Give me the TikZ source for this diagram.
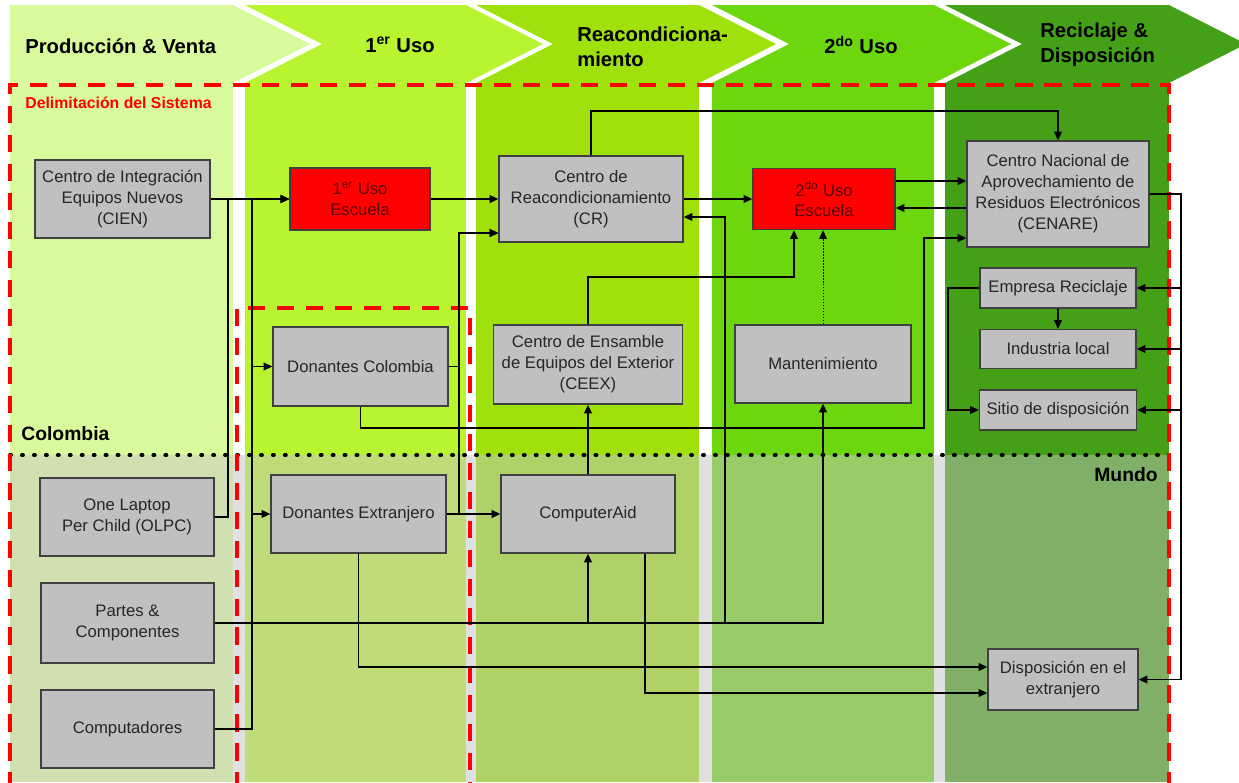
\documentclass[tikz,border=0pt]{standalone}
\usepackage{fontspec}
\setmainfont{Liberation Sans}
\usetikzlibrary{arrows.meta}
\definecolor{boxgray}{RGB}{192,192,192}
\definecolor{boxline}{RGB}{64,64,64}
\definecolor{escred}{RGB}{255,0,0}
\definecolor{escink}{RGB}{90,0,0}
\definecolor{gapgray}{RGB}{224,224,224}
\definecolor{hueA}{RGB}{217,249,157}
\definecolor{hueB}{RGB}{184,244,48}
\definecolor{hueC}{RGB}{160,224,12}
\definecolor{hueD}{RGB}{108,214,14}
\definecolor{hueE}{RGB}{68,160,22}
\definecolor{lowA}{RGB}{208,224,176}
\definecolor{lowB}{RGB}{190,220,122}
\definecolor{lowC}{RGB}{176,208,104}
\definecolor{lowD}{RGB}{152,204,104}
\definecolor{lowE}{RGB}{128,176,104}
\newcommand{\boxfont}{\fontsize{9.5}{11.9}\selectfont}
\newcommand{\headfont}{\fontsize{11.5}{14}\selectfont\bfseries}

\begin{document}
\begin{tikzpicture}[x=0.02cm,y=-0.02cm,
  box/.style 2 args={draw=boxline, fill=boxgray, line width=0.8pt, text=black!85,
    minimum width=#1, minimum height=#2, inner sep=1pt, align=center, font=\boxfont},
  school/.style 2 args={box={#1}{#2}, fill=escred, text=escink},
  flow/.style={-{Triangle[length=5pt,width=4.5pt]}, line width=0.7pt},
  limit/.style={red, line width=2.2pt, dash pattern=on 10pt off 6.5pt},
  zoneline/.style={line width=2.2pt, line cap=round, dash pattern=on 0.6pt off 6.2pt},
  headtext/.style={inner sep=0pt, font=\headfont, align=left},
  zonetext/.style={inner sep=0pt, font=\fontsize{11}{13}\selectfont\bfseries}]

  \useasboundingbox (0,0) rectangle (1239,782);
  \clip (0,0) rectangle (1239,782);

  %lanes
  \fill[gapgray] (10,455) rectangle (1169,782);
  \foreach \xa/\xb/\hue/\lowhue in {10/233/hueA/lowA, 245/466/hueB/lowB, 476/699/hueC/lowC, 712/934/hueD/lowD, 945/1169/hueE/lowE} {
    \fill[\hue] (\xa,83) rectangle (\xb,455);
    \fill[\lowhue] (\xa,455) rectangle (\xb,782);
  }

  %header arrows
  \fill[hueA] (10,5) -- (233,5) -- (310,44) -- (233,83) -- (10,83) -- cycle;
  \foreach \xa/\xb/\hue in {245/466/hueB, 476/699/hueC, 712/934/hueD, 945/1169/hueE}
    \fill[\hue] (\xa,5) -- (\xb,5) -- (\xb+77,44) -- (\xb,83) -- (\xa,83) -- (\xa+77,44) -- cycle;

  \node[headtext, anchor=west] (hprod) at (25,46) {Producción \& Venta};
  \node[headtext] (huno) at (400,45) {1\textsuperscript{er} Uso};
  \node[headtext, anchor=west] (hreac) at (577,47) {Reacondiciona-\\miento};
  \node[headtext] (hdos) at (861,45) {2\textsuperscript{do} Uso};
  \node[headtext, anchor=west] (hrec) at (1040,45) {Reciclaje \&\\Disposición};

  %colombia / mundo
  \draw[zoneline] (10,455) -- (1169,455);
  \node[zonetext, anchor=west] (colombia) at (21,434) {Colombia};
  \node[zonetext, anchor=east] (mundo) at (1158,475) {Mundo};

  %system limits
  \draw[limit] (10,790) -- (10,85) -- (1169,85) -- (1169,790);
  \draw[limit] (237,790) -- (237,308) -- (470,308) -- (470,790);
  \node[anchor=west, inner sep=0pt, text=red, font=\fontsize{9}{11}\selectfont\bfseries] (delim) at (25,103) {Delimitación del Sistema};

  %boxes
  \node[box={3.5cm}{1.56cm}] (cien) at (122.5,199) {Centro de Integración\\Equipos Nuevos\\(CIEN)};
  \node[school={2.8cm}{1.24cm}] (uno) at (360,199) {1\textsuperscript{er} Uso\\Escuela};
  \node[box={3.68cm}{1.72cm}] (cr) at (591,199) {Centro de\\Reacondicionamiento\\(CR)};
  \node[school={2.84cm}{1.22cm}] (dos) at (824,199) {2\textsuperscript{do} Uso\\Escuela};
  \node[box={3.64cm}{2.12cm}] (cenare) at (1058,194) {Centro Nacional de\\Aprovechamiento de\\Residuos Electrónicos\\(CENARE)};
  \node[box={3.12cm}{0.8cm}] (emprec) at (1058,288) {Empresa Reciclaje};
  \node[box={3.12cm}{0.78cm}] (indloc) at (1058,349) {Industria local};
  \node[box={3.14cm}{0.8cm}] (sitio) at (1058,410) {Sitio de disposición};
  \node[box={3.52cm}{1.56cm}] (mant) at (823,364) {Mantenimiento};
  \node[box={3.78cm}{1.58cm}] (ceex) at (588,364.5) {Centro de Ensamble\\de Equipos del Exterior\\(CEEX)};
  \node[box={3.5cm}{1.58cm}] (doncol) at (360.5,366.5) {Donantes Colombia};
  \node[box={3.5cm}{1.56cm}] (donext) at (358.5,514) {Donantes Extranjero};
  \node[box={3.48cm}{1.56cm}] (compaid) at (588,514) {ComputerAid};
  \node[box={3.48cm}{1.56cm}] (olpc) at (127,517) {One Laptop\\Per Child (OLPC)};
  \node[box={3.46cm}{1.6cm}] (partes) at (127.5,623) {Partes \&\\Componentes};
  \node[box={3.46cm}{1.56cm}] (computadores) at (127.5,729) {Computadores};
  \node[box={3.0cm}{1.22cm}] (dispext) at (1063,679.5) {Disposición en el\\extranjero};

  %into 1er uso
  \draw[flow] (cien.east) -- (uno.west);
  \draw[flow] (olpc.east) -| (228,199) -- (uno.west);
  \draw[flow] (computadores.east) -| (252,199) -- (uno.west);
  \draw[flow] (computadores.east) -| (252,366.5) -- (doncol.west);
  \draw[flow] (computadores.east) -| (252,514) -- (donext.west);

  %donors and reconditioning
  \draw[flow] (uno.east) -- (cr.west);
  \draw[flow] (doncol.east) -| (459,233) -- (cr.west |- 0,233);
  \draw[flow] (donext.east) -| (459,233) -- (cr.west |- 0,233);
  \draw[flow] (donext.east) -- (compaid.west);
  \draw[flow] (cr.east) -- (dos.west);
  \draw[flow] (cr.north) |- (1058,111) -- (cenare.north);

  %parts
  \draw[flow] (partes.east) -| (compaid.south);
  \draw[flow] (partes.east) -| (725,217) -- (cr.east |- 0,217);
  \draw[flow] (partes.east) -| (mant.south);

  %assembly and 2do uso
  \draw[flow] (compaid.north) -- (ceex.south);
  \draw[flow] (ceex.north) |- (794,277) -- (dos.south -| 794,0);
  \draw[flow, densely dotted, line width=0.5pt] (mant.north) -- (mant.north |- dos.south);
  \draw[flow] (dos.east |- 0,181) -- (cenare.west |- 0,181);
  \draw[flow] (cenare.west |- 0,208) -- (dos.east |- 0,208);
  \draw[flow] (doncol.south) |- (924,428) |- (cenare.west |- 0,238);

  %recycling
  \draw[flow] (cenare.east) -| (1181,288) -- (emprec.east);
  \draw[flow] (cenare.east) -| (1181,349) -- (indloc.east);
  \draw[flow] (cenare.east) -| (1181,410) -- (sitio.east);
  \draw[flow] (cenare.east) -| (1181,679.5) -- (dispext.east);
  \draw[flow] (emprec.south) -- (indloc.north);
  \draw[flow] (emprec.west) -| (948,410) -- (sitio.west);

  %disposal abroad
  \draw[flow] (donext.south) |- (dispext.west |- 0,667);
  \draw[flow] (compaid.south -| 645,0) |- (dispext.west |- 0,693);
\end{tikzpicture}
\end{document}
